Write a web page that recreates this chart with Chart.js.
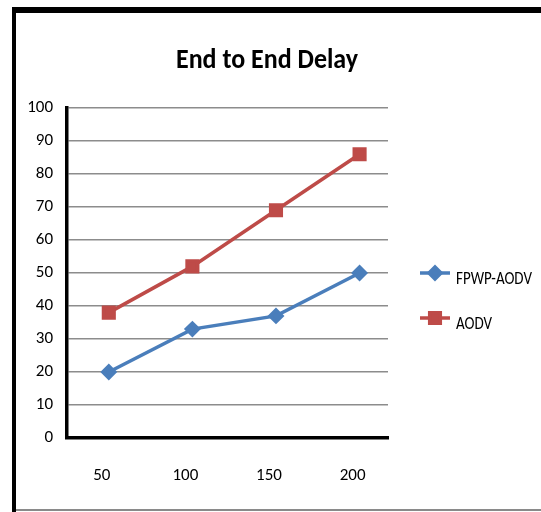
<!DOCTYPE html>
<html>
<head>
<meta charset="utf-8">
<script src="https://cdn.jsdelivr.net/npm/chart.js@4/dist/chart.umd.min.js"></script>
<style>
  html, body { margin: 0; padding: 0; background: #fff; }
  canvas { display: block; }
</style>
</head>
<body>
<canvas id="delayChart" width="541" height="512"></canvas>
<script>
const chartTitle = "End to End Delay";
const categories = [50, 100, 150, 200];
const fpwpAodv = [20, 33, 37, 50];
const aodv = [38, 52, 69, 86];
const seriesNames = ["FPWP-AODV", "AODV"];

const FONT = 'Carlito, "Roboto Condensed", "Liberation Sans", sans-serif';

// text in the source picture is a little stretched vertically
function tallText(ctx, text, x, y, stretch) {
  ctx.save();
  ctx.translate(x, y);
  ctx.scale(1, stretch);
  ctx.fillText(text, 0, 0);
  ctx.restore();
}

// frame, title and legend drawn on the canvas
const decorations = {
  id: "decorations",
  beforeDraw(chart) {
    const ctx = chart.ctx;
    ctx.save();
    ctx.fillStyle = "#fff";
    ctx.fillRect(0, 0, chart.width, chart.height);
    ctx.fillStyle = "#000";
    ctx.fillRect(12, 7, chart.width - 12, 6);
    ctx.fillRect(12, 7, 4, chart.height - 7);
    ctx.fillStyle = "#8a8a8a";
    ctx.fillRect(16, 509, chart.width - 16, 2);

    ctx.fillStyle = "#000";
    ctx.font = "bold 26px " + FONT;
    ctx.textAlign = "center";
    ctx.textBaseline = "alphabetic";
    tallText(ctx, chartTitle, 267, 68, 1.1);
    ctx.restore();
  },
  afterDraw(chart) {
    const ctx = chart.ctx;
    ctx.save();
    chart.data.datasets.forEach((ds, i) => {
      const y = 273 + i * 45;
      ctx.strokeStyle = ds.borderColor;
      ctx.lineWidth = 3.5;
      ctx.beginPath();
      ctx.moveTo(420, y);
      ctx.lineTo(450, y);
      ctx.stroke();
      ctx.fillStyle = ds.pointBackgroundColor;
      ctx.strokeStyle = ds.pointBorderColor;
      Chart.helpers.drawPoint(ctx, {
        pointStyle: ds.pointStyle, rotation: 0,
        radius: ds.pointRadius, borderWidth: 1
      }, 435, y);
      ctx.fillStyle = "#000";
      ctx.font = "15px " + FONT;
      ctx.textAlign = "left";
      ctx.textBaseline = "alphabetic";
      tallText(ctx, ds.label, 456, y + 11, 1.2);
    });
    ctx.restore();
  }
};

new Chart(document.getElementById("delayChart").getContext("2d"), {
  type: "line",
  data: {
    datasets: [
      {
        label: seriesNames[0],
        data: categories.map((c, i) => ({ x: c, y: fpwpAodv[i] })),
        borderColor: "#4a7ebb",
        borderWidth: 3.5,
        pointStyle: "rectRot",
        pointRadius: 6,
        pointBackgroundColor: "#4a7ebb",
        pointBorderColor: "#4a7ebb",
        tension: 0
      },
      {
        label: seriesNames[1],
        data: categories.map((c, i) => ({ x: c, y: aodv[i] })),
        borderColor: "#be4b48",
        borderWidth: 3.5,
        pointStyle: "rect",
        pointRadius: 7.5,
        pointBackgroundColor: "#be4b48",
        pointBorderColor: "#be4b48",
        tension: 0
      }
    ]
  },
  options: {
    responsive: false,
    animation: false,
    devicePixelRatio: 1,
    layout: { padding: { left: 20, right: 153, top: 108, bottom: 0 } },
    plugins: {
      legend: { display: false },
      title: { display: false },
      tooltip: { enabled: false }
    },
    scales: {
      x: {
        type: "linear",
        min: 25,
        max: 217,
        afterBuildTicks: scale => { scale.ticks = categories.map(v => ({ value: v })); },
        afterFit: scale => { scale.height = 74; },
        grid: { display: false, drawTicks: false },
        border: { color: "#000", width: 3.5 },
        ticks: {
          color: "#000",
          font: { family: FONT, size: 17 },
          padding: 28,
          labelOffset: -7
        }
      },
      y: {
        min: 0,
        max: 100,
        afterFit: scale => { scale.width = 47; },
        grid: { color: "#8c8c8c", lineWidth: 1.5, drawTicks: false },
        border: { color: "#000", width: 3.5 },
        ticks: {
          stepSize: 10,
          color: "#000",
          font: { family: FONT, size: 17 },
          padding: 14
        }
      }
    }
  },
  plugins: [decorations]
});
</script>
</body>
</html>
